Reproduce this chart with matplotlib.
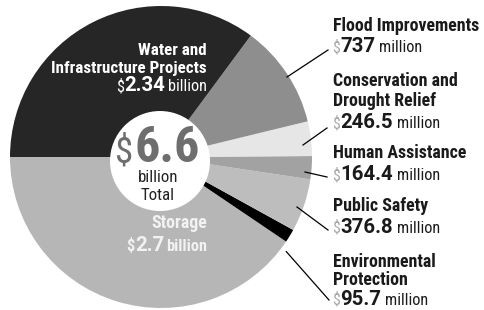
import matplotlib
matplotlib.use("Agg")
import matplotlib.pyplot as plt
import matplotlib.font_manager as fm
from matplotlib.font_manager import FontProperties
from matplotlib.textpath import TextPath
from matplotlib.patches import Circle

# ---------------- data ----------------
categories = ["Storage", "Environmental Protection", "Public Safety",
              "Human Assistance", "Conservation and Drought Relief",
              "Flood Improvements", "Water and Infrastructure Projects"]
values_millions = [2700, 95.7, 376.8, 164.4, 246.5, 737, 2340]
amount_text = ["2.7", "95.7", "376.8", "164.4", "246.5", "737", "2.34"]
unit_text = ["billion", "million", "million", "million", "million", "million", "billion"]
total_text = "6.6"
slice_colors = ["#b6b6b6", "#000000", "#bdbdbd", "#a2a2a2", "#e6e6e6", "#8e8e8e", "#262626"]

right_labels = [
    (5, ["Flood Improvements"]),
    (4, ["Conservation and", "Drought Relief"]),
    (3, ["Human Assistance"]),
    (2, ["Public Safety"]),
    (1, ["Environmental", "Protection"]),
]

# ---------------- fonts ----------------
names = {f.name for f in fm.fontManager.ttflist}
STRETCH = "normal"
COND = None
for cand in ["Liberation Sans Narrow", "Roboto Condensed", "Noto Sans Condensed",
             "Open Sans Condensed", "DejaVu Sans Condensed", "Arial Narrow"]:
    if cand in names:
        COND = [cand, "DejaVu Sans"]
        break
if COND is None:
    cond = [f for f in fm.fontManager.ttflist
            if f.stretch in ("condensed", "semi-condensed", 75, 87.5)]
    if cond:
        COND = [cond[0].name, "DejaVu Sans"]
        STRETCH = "condensed"
    else:
        COND = ["Roboto", "DejaVu Sans"]
WIDE = ["Roboto", "DejaVu Sans"]

# ---------------- canvas ----------------
W, H = 485, 310
fig = plt.figure(figsize=(W / 100, H / 100), dpi=100)
ax = fig.add_axes([0, 0, 1, 1])
renderer = fig.canvas.get_renderer()


def Y(py):
    return H - py


cx, cy, R = 161, 157, 151
ax.pie(values_millions, colors=slice_colors, startangle=180, counterclock=True,
       radius=R, center=(cx, Y(cy)), wedgeprops=dict(linewidth=0, edgecolor="none"))
ax.add_patch(Circle((cx - 1, Y(cy + 4)), 50, facecolor="white", edgecolor="none", zorder=3))
ax.set_xlim(0, W)
ax.set_ylim(0, H)
ax.set_aspect("equal")
ax.axis("off")


def _ext(s, fam, weight):
    fp = FontProperties(family=fam, weight=weight,
                        stretch=(STRETCH if fam is COND else "normal"))
    return TextPath((0, 0), s, size=10, prop=fp).get_extents()


def fit_h(s, fam, weight, target_px):
    return 10 * target_px / (_ext(s, fam, weight).height * 100 / 72)


def fit_w(s, fam, weight, target_px):
    return 10 * target_px / (_ext(s, fam, weight).width * 100 / 72)


def fk(fam, size, weight="normal", color="black"):
    return dict(family=fam, fontsize=size, fontweight=weight, color=color,
                fontstretch=(STRETCH if fam is COND else "normal"))


def width_of(s, kw):
    t = ax.text(0, 0, s, **kw)
    w = t.get_window_extent(renderer).width
    t.remove()
    return w


def run(x, py, pieces, ha="left", gaps=None):
    ws = [width_of(s, kw) for s, kw in pieces]
    if gaps is None:
        gaps = [2.0] * (len(pieces) - 1)
    total = sum(ws) + sum(gaps)
    if ha == "right":
        x -= total
    elif ha == "center":
        x -= total / 2
    for i, ((s, kw), w) in enumerate(zip(pieces, ws)):
        ax.text(x, Y(py), s, ha="left", va="baseline", zorder=5, **kw)
        x += w + (gaps[i] if i < len(gaps) else 0)


S_name = fit_w("Flood Improvements", COND, "bold", 145)
S_inner = fit_w("Infrastructure Projects", COND, "bold", 154)
S_num = fit_h("7", WIDE, "bold", 14.5)
S_unit = fit_w("million", COND, "normal", 41)
S_dol = fit_h("S", COND, "normal", 11.5)
S_big = fit_h("6", COND, "bold", 36.5)
S_bigdol = fit_h("S", COND, "normal", 27.0)
S_small = fit_h("T", COND, "normal", 12.0)

ink = "#1a1a1a"
xr = 333
baselines = {
    5: ([31], 52),
    4: ([86, 106], 128),
    3: ([158], 180),
    2: ([211], 233),
    1: ([267, 285], 305),
}
for idx, lines in right_labels:
    name_b, amt_b = baselines[idx]
    for line, b in zip(lines, name_b):
        ax.text(xr, Y(b), line, ha="left", va="baseline", zorder=5,
                **fk(COND, S_name, "bold", ink))
    run(xr - 1, amt_b, [("$", fk(COND, S_dol, "normal", "#a8a8a8")),
                        (amount_text[idx], fk(WIDE, S_num, "bold", ink)),
                        (unit_text[idx], fk(COND, S_unit, "normal", ink))],
        gaps=[0.5, 4.0])

leaders = [((287, 77), (328, 50)),
           ((303, 145), (327, 128)),
           ((305, 172), (327, 177)),
           ((297, 207), (328, 230)),
           ((284, 249), (329, 300))]
for (x0, y0), (x1, y1) in leaders:
    ax.plot([x0, x1], [Y(y0), Y(y1)], color="black", lw=0.9, zorder=4)
ax.plot([284], [Y(249)], marker="o", ms=2.2, color="white", zorder=4)

# Water & Infrastructure
wx = 207
ax.text(wx, Y(55), "Water and", ha="right", va="baseline", zorder=5,
        **fk(COND, S_inner, "bold", "white"))
ax.text(wx, Y(73), "Infrastructure Projects", ha="right", va="baseline", zorder=5,
        **fk(COND, S_inner, "bold", "white"))
run(wx, 91, [("$", fk(COND, S_unit, "normal", "white")),
             (amount_text[6], fk(WIDE, S_num, "bold", "white")),
             (unit_text[6], fk(COND, S_unit, "normal", "white"))],
    ha="right", gaps=[0.5, 3.0])

# Storage
sc = "#f2f2f2"
ax.text(wx, Y(228), "Storage", ha="right", va="baseline", zorder=5,
        **fk(COND, S_inner * 1.05, "bold", sc))
run(wx, 251, [("$", fk(COND, S_unit, "bold", sc)),
              (amount_text[0], fk(WIDE, S_num, "bold", sc)),
              (unit_text[0], fk(COND, S_unit, "bold", sc))],
    ha="right", gaps=[0.5, 2.0])

# centre total
run(157.5, 162, [("$", fk(COND, S_bigdol, "normal", "#6e6e6e")),
                 (total_text, fk(COND, S_big, "bold", "#6e6e6e"))],
    ha="center", gaps=[1.0])
ax.text(158, Y(182), "billion", ha="center", va="baseline", zorder=5,
        **fk(COND, S_small, "normal", "#222222"))
ax.text(157.5, Y(200), "Total", ha="center", va="baseline", zorder=5,
        **fk(COND, S_small, "normal", "#222222"))

fig.savefig("out.png", dpi=100)
